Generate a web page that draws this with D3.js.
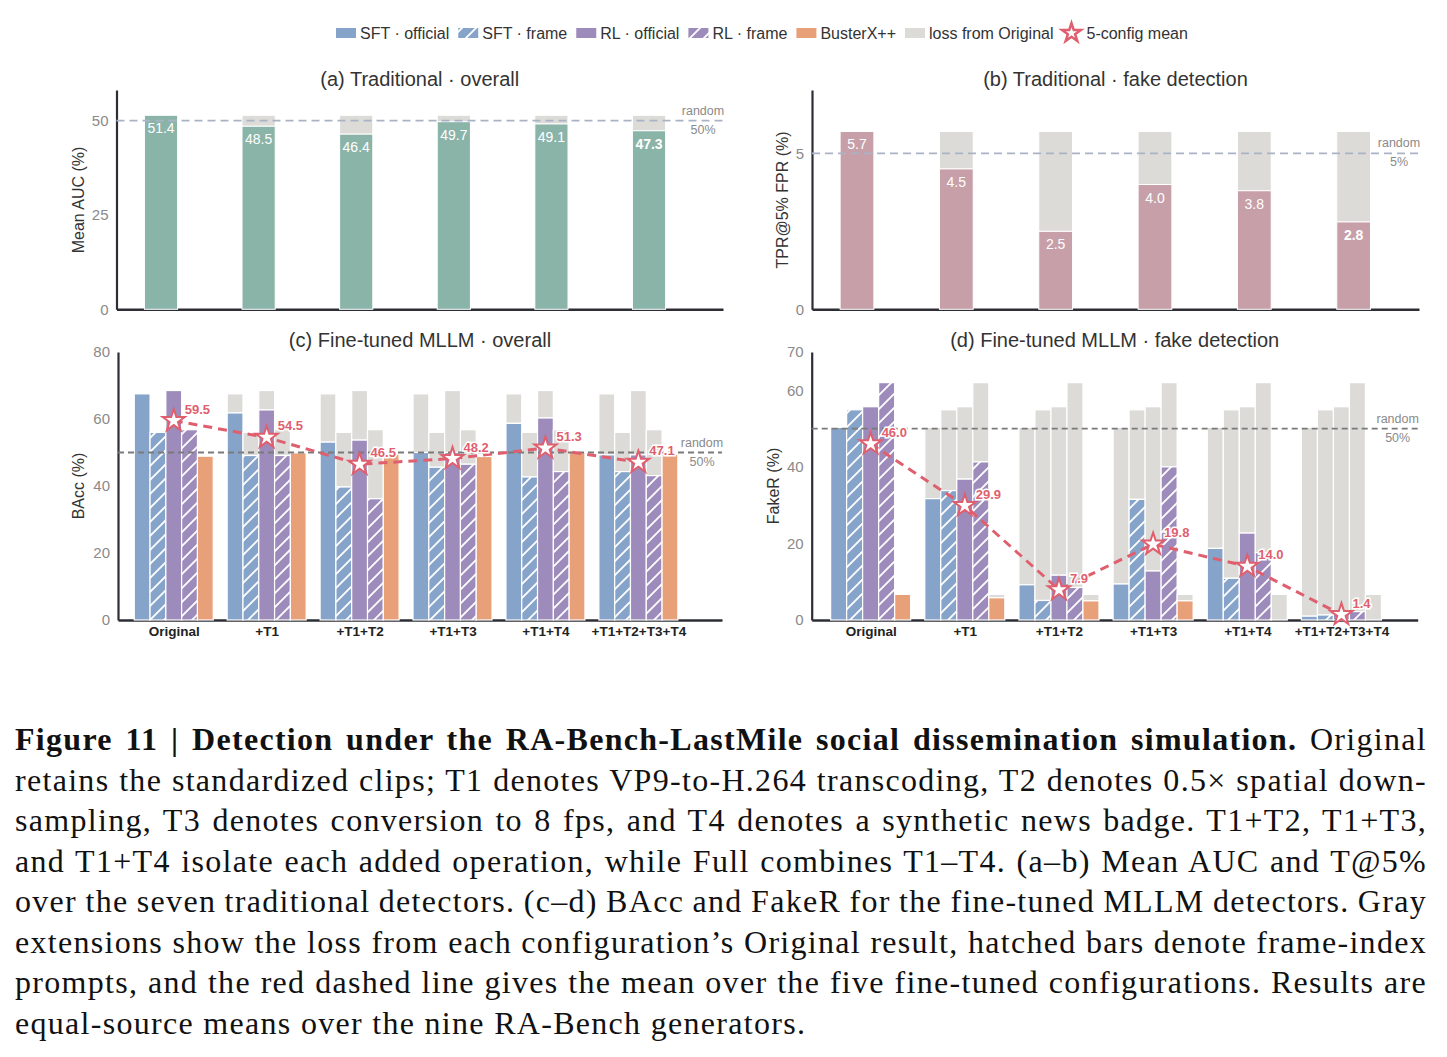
<!DOCTYPE html>
<html><head><meta charset="utf-8">
<script src="https://cdn.jsdelivr.net/npm/d3@7"></script>
<style>body{margin:0;background:#fff;} svg{display:block;}</style>
</head><body>
<svg id="chart" width="1447" height="1057"></svg>
<script>
// ---------------- data ----------------
const configs = ["Original","+T1","+T1+T2","+T1+T3","+T1+T4","+T1+T2+T3+T4"];
const tradAUC = [51.4,48.5,46.4,49.7,49.1,47.3];
const tradTPR = [5.7,4.5,2.5,4.0,3.8,2.8];
const seriesNames = ["SFT · official","SFT · frame","RL · official","RL · frame","BusterX++"];
const sftOfficialBAcc = [67.5,61.8,53.1,50.0,58.7,49.3];
const sftFrameBAcc    = [56.0,49.1,39.7,45.6,42.7,44.3];
const rlOfficialBAcc  = [68.5,62.7,53.7,50.0,60.3,49.3];
const rlFrameBAcc     = [56.8,49.1,36.2,46.5,44.3,43.1];
const busterBAcc      = [48.9,49.9,49.5,48.8,50.0,49.5];
const meanBAcc        = [59.5,54.5,46.5,48.2,51.3,47.1];
const sftOfficialFakeR = [50.3,31.7,9.2,9.4,18.7,1.0];
const sftFrameFakeR    = [54.9,33.8,5.1,31.5,10.9,1.3];
const rlOfficialFakeR  = [55.7,36.8,11.7,12.8,22.7,2.4];
const rlFrameFakeR     = [62.0,41.3,8.5,40.0,17.6,2.2];
const busterFakeR      = [6.7,5.8,5.0,5.0,0.0,0.0];
const meanFakeR        = [46.0,29.9,7.9,19.8,14.0,1.4];
const ticksAUC = [0,25,50];
const ticksTPR = [0,5];
const ticksBAcc = [0,20,40,60,80];
const ticksFakeR = [0,20,40,60,70];
const legendLabels = ["SFT · official","SFT · frame","RL · official","RL · frame","BusterX++","loss from Original","5-config mean"];
const captionBold = "Figure 11 | Detection under the RA-Bench-LastMile social dissemination simulation.";
const captionLines = [
  " Original",
  "retains the standardized clips; T1 denotes VP9-to-H.264 transcoding, T2 denotes 0.5× spatial down-",
  "sampling, T3 denotes conversion to 8 fps, and T4 denotes a synthetic news badge. T1+T2, T1+T3,",
  "and T1+T4 isolate each added operation, while Full combines T1–T4. (a–b) Mean AUC and T@5%",
  "over the seven traditional detectors. (c–d) BAcc and FakeR for the fine-tuned MLLM detectors. Gray",
  "extensions show the loss from each configuration’s Original result, hatched bars denote frame-index",
  "prompts, and the red dashed line gives the mean over the five fine-tuned configurations. Results are",
  "equal-source means over the nine RA-Bench generators."
];

// ---------------- styles ----------------
const C = {sft:"#86a4ca", rl:"#9d8bbb", buster:"#e8a079", teal:"#8bb4a9", mauve:"#c79fa8",
           gray:"#dcdbd7", red:"#df5f6e", spine:"#2d2d36", tick:"#8a8a8a", text:"#333"};
const FONT = "'Liberation Sans', Arial, Helvetica, sans-serif";
const svg = d3.select("#chart");
svg.append("rect").attr("width",1447).attr("height",1057).attr("fill","#fff");
const defs = svg.append("defs");
function hatch(id, color){
  const p = defs.append("pattern").attr("id",id).attr("patternUnits","userSpaceOnUse")
    .attr("width",14).attr("height",14);
  p.append("rect").attr("width",14).attr("height",14).attr("fill",color);
  p.append("path").attr("d","M-2,2 L2,-2 M0,14 L14,0 M12,16 L16,12")
    .attr("stroke","#fff").attr("stroke-width",1.8);
}
hatch("hSft", C.sft); hatch("hRl", C.rl);
const seriesFill = [C.sft, "url(#hSft)", C.rl, "url(#hRl)", C.buster];

const star = d3.symbol().type(d3.symbolStar).size(150);

function axes(g, x, y, xr, yr, ticks, cats){
  const ya = d3.axisLeft(y).tickValues(ticks).tickSize(0).tickPadding(8).tickSizeOuter(0)
    .tickFormat(d3.format("~g"));
  const yg = g.append("g").attr("transform",`translate(${xr[0]},0)`).call(ya);
  yg.select(".domain").attr("stroke",C.spine).attr("stroke-width",2.2);
  yg.selectAll("text").attr("fill",C.tick).attr("font-size",15).attr("font-family",FONT);
  const xa = d3.axisBottom(x).tickValues(d3.range(configs.length)).tickSize(0).tickPadding(6).tickSizeOuter(0)
    .tickFormat(i => cats ? configs[i] : "");
  const xg = g.append("g").attr("transform",`translate(0,${yr[0]})`).call(xa);
  xg.select(".domain").attr("stroke",C.spine).attr("stroke-width",2.6);
  xg.selectAll("text").attr("fill","#222").attr("font-size",13.5).attr("font-weight","bold").attr("font-family",FONT);
  return xg;
}
function refLine(g, x0, x1, yv, color, dash, label, pct){
  g.append("line").attr("x1",x0).attr("x2",x1).attr("y1",yv).attr("y2",yv)
    .attr("stroke",color).attr("stroke-width",1.8).attr("stroke-dasharray",dash);
  const cx = x1 - 20;
  g.append("text").attr("x",cx).attr("y",yv-6).attr("text-anchor","middle").attr("font-size",12.5)
    .attr("fill",C.tick).attr("font-family",FONT).text(label);
  g.append("text").attr("x",cx).attr("y",yv+13).attr("text-anchor","middle").attr("font-size",12.5)
    .attr("fill",C.tick).attr("font-family",FONT).text(pct);
}
function title(g, cx, yv, t){
  g.append("text").attr("x",cx).attr("y",yv).attr("text-anchor","middle").attr("font-size",20)
    .attr("fill",C.text).attr("font-family",FONT).text(t);
}
function ylabel(g, xv, cy, t){
  g.append("text").attr("transform",`translate(${xv},${cy}) rotate(-90)`).attr("text-anchor","middle")
    .attr("font-size",16).attr("fill",C.text).attr("font-family",FONT).text(t);
}

// ---------------- simple panels (a, b) ----------------
function simplePanel(o){
  const g = svg.append("g");
  const yr = [309.3, 90];
  const x = d3.scaleLinear().domain(o.xd).range(o.xr);
  const y = d3.scaleLinear().domain(o.yd).range(yr);
  axes(g, x, y, o.xr, yr, o.ticks, false);
  const bw = x(0.34) - x(0);
  const orig = o.vals[0];
  const bars = g.append("g");
  o.vals.forEach((v,i) => {
    if (orig > v) bars.append("rect").attr("x",x(i)-bw/2).attr("width",bw)
      .attr("y",y(orig)).attr("height",y(v)-y(orig)).attr("fill",C.gray).attr("stroke","#fff").attr("stroke-width",1);
    bars.append("rect").attr("x",x(i)-bw/2).attr("width",bw)
      .attr("y",y(v)).attr("height",y(0)-y(v)).attr("fill",o.color).attr("stroke","#fff").attr("stroke-width",1);
  });
  refLine(g, o.xr[0], o.xr[1], y(o.ref), "#aab3c5", "8,5", "random", o.refLabel);
  o.vals.forEach((v,i) => {
    g.append("text").attr("x",x(i)).attr("y",y(v)+18).attr("text-anchor","middle")
      .attr("font-size",14).attr("fill","#fff").attr("font-family",FONT)
      .attr("font-weight", i === o.vals.length-1 ? "bold" : "normal").text(v.toFixed(1));
  });
  title(g, (o.xr[0]+o.xr[1])/2, 86, o.title);
  ylabel(g, o.ylx, 200, o.ylabel);
}
simplePanel({xd:[-0.456,5.758], xr:[116.5,723], yd:[0,58.1], ticks:ticksAUC, vals:tradAUC, color:C.teal,
  ref:50, refLabel:"50%", title:"(a) Traditional · overall", ylabel:"Mean AUC (%)", ylx:84});
simplePanel({xd:[-0.453,5.658], xr:[812,1419], yd:[0,7.03], ticks:ticksTPR, vals:tradTPR, color:C.mauve,
  ref:5, refLabel:"5%", title:"(b) Traditional · fake detection", ylabel:"TPR@5% FPR (%)", ylx:788});

// ---------------- grouped panels (c, d) ----------------
function groupedPanel(o){
  const g = svg.append("g");
  const yr = [620, 352];
  const x = d3.scaleLinear().domain(o.xd).range(o.xr);
  const y = d3.scaleLinear().domain(o.yd).range(yr);
  axes(g, x, y, o.xr, yr, o.ticks, true);
  const pitch = 0.17;
  const bw = x(pitch) - x(0);
  const bars = g.append("g");
  o.series.forEach((vals, s) => {
    const orig = vals[0];
    vals.forEach((v,i) => {
      const cx = x(i + (s-2)*pitch);
      if (orig > v) bars.append("rect").attr("x",cx-bw/2).attr("width",bw)
        .attr("y",y(orig)).attr("height",y(v)-y(orig)).attr("fill",C.gray).attr("stroke","#fff").attr("stroke-width",1.2);
      if (v > 0) bars.append("rect").attr("x",cx-bw/2).attr("width",bw)
        .attr("y",y(v)).attr("height",y(0)-y(v)).attr("fill",seriesFill[s]).attr("stroke","#fff").attr("stroke-width",1.2);
    });
  });
  refLine(g, o.xr[0], o.xr[1], y(50), "#7a7a7a", "6,4", "random", "50%");
  const line = d3.line().x((d,i)=>x(i)).y(d=>y(d));
  g.append("path").attr("d",line(o.mean)).attr("fill","none").attr("stroke",C.red)
    .attr("stroke-width",3).attr("stroke-dasharray","9,6");
  o.mean.forEach((m,i) => {
    g.append("path").attr("d",star()).attr("transform",`translate(${x(i)},${y(m)})`)
      .attr("fill","#fff").attr("stroke",C.red).attr("stroke-width",2);
    g.append("text").attr("x",x(i)+11).attr("y",y(m)-7).attr("font-size",13).attr("font-weight","bold")
      .attr("fill",C.red).attr("font-family",FONT).attr("stroke","#fff").attr("stroke-width",3)
      .attr("paint-order","stroke").text(m.toFixed(1));
  });
  title(g, (o.xr[0]+o.xr[1])/2, 347, o.title);
  ylabel(g, o.ylx, 486, o.ylabel);
}
groupedPanel({xd:[-0.6,5.9], xr:[118,722], yd:[0,80], ticks:ticksBAcc,
  series:[sftOfficialBAcc,sftFrameBAcc,rlOfficialBAcc,rlFrameBAcc,busterBAcc], mean:meanBAcc,
  title:"(c) Fine-tuned MLLM · overall", ylabel:"BAcc (%)", ylx:84});
groupedPanel({xd:[-0.626,5.81], xr:[811.7,1417.7], yd:[0,70], ticks:ticksFakeR,
  series:[sftOfficialFakeR,sftFrameFakeR,rlOfficialFakeR,rlFrameFakeR,busterFakeR], mean:meanFakeR,
  title:"(d) Fine-tuned MLLM · fake detection", ylabel:"FakeR (%)", ylx:779});

// ---------------- legend ----------------
const lg = svg.append("g").attr("font-family",FONT).attr("font-size",16).attr("fill",C.text);
const legendFills = [C.sft,"url(#hSft)",C.rl,"url(#hRl)",C.buster,C.gray,null];
let lx = 336;
legendLabels.forEach((lab,i) => {
  if (legendFills[i]) {
    lg.append("rect").attr("x",lx).attr("y",28).attr("width",20).attr("height",10).attr("fill",legendFills[i]);
  } else {
    lg.append("path").attr("d",d3.symbol().type(d3.symbolStar).size(110)()).attr("transform",`translate(${lx+9},33)`)
      .attr("fill","#fff").attr("stroke",C.red).attr("stroke-width",2.5);
  }
  const t = lg.append("text").attr("x",lx+24).attr("y",39).text(lab);
  lx += 24 + t.node().getComputedTextLength() + 9;
});

// ---------------- caption ----------------
const cap = svg.append("g").attr("font-family","'Liberation Serif', 'Times New Roman', serif")
  .attr("font-size",32).attr("fill","#111").attr("letter-spacing",1.3);
const capLeft = 15, capRight = 1427;
const baselines = [750,790.5,831,871.5,912,952.5,993,1033.5];
captionLines.forEach((ln,i) => {
  const t = cap.append("text").attr("x",capLeft).attr("y",baselines[i]).attr("xml:space","preserve");
  let full = ln;
  if (i === 0) {
    t.append("tspan").attr("font-weight","bold").text(captionBold);
    t.append("tspan").text(ln);
    full = captionBold + ln;
  } else {
    t.text(ln);
  }
  if (i < captionLines.length - 1) {
    const w = t.node().getComputedTextLength();
    const spaces = (full.match(/ /g) || []).length;
    t.attr("word-spacing", (capRight - capLeft - w) / spaces);
  }
});
</script>
</body></html>
